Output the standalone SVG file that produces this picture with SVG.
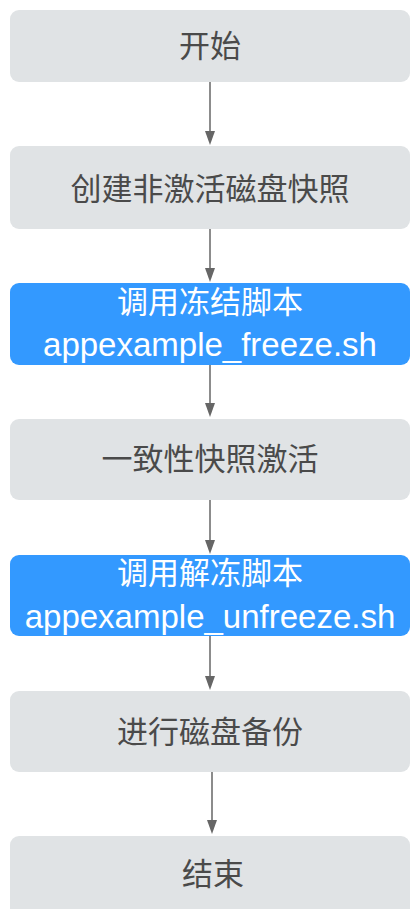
<svg xmlns="http://www.w3.org/2000/svg" width="412" height="909" viewBox="0 0 412 909">
<style>
.g{fill:#e0e3e5}
.b{fill:#3399ff}
.t{font-family:"Liberation Sans","Noto Sans CJK SC",sans-serif;font-size:31px;text-anchor:middle;dominant-baseline:central}
.l{font-size:33px}
.tg{fill:#4a4a4a}
.tw{fill:#ffffff}
.c{stroke:#666666;stroke-width:1.5;fill:none}
.h{fill:#666666}
</style>
<rect width="412" height="909" fill="#ffffff"/>
<g id="connectors">
<line class="c" x1="210" y1="82" x2="210" y2="132"/>
<path class="h" d="M205,131 L215,131 L210,145 Z"/>
<line class="c" x1="210" y1="229" x2="210" y2="269"/>
<path class="h" d="M205,268 L215,268 L210,282 Z"/>
<line class="c" x1="210" y1="365" x2="210" y2="404"/>
<path class="h" d="M205,403 L215,403 L210,417 Z"/>
<line class="c" x1="210" y1="500" x2="210" y2="541"/>
<path class="h" d="M205,540 L215,540 L210,554 Z"/>
<line class="c" x1="210" y1="636" x2="210" y2="677"/>
<path class="h" d="M205,676 L215,676 L210,690 Z"/>
<line class="c" x1="212" y1="772" x2="212" y2="821"/>
<path class="h" d="M207,820 L217,820 L212,834 Z"/>
</g>
<g id="n1">
<rect class="g" x="10" y="10" width="400" height="72" rx="9"/>
<text class="t tg" x="210" y="46">开始</text>
</g>
<g id="n2">
<rect class="g" x="10" y="146" width="400" height="83" rx="9"/>
<text class="t tg" x="210" y="189">创建非激活磁盘快照</text>
</g>
<g id="n3">
<rect class="b" x="10" y="283" width="400" height="82" rx="9"/>
<text class="t tw" x="210" y="302">调用冻结脚本</text>
<text class="t l tw" x="210" y="344">appexample_freeze.sh</text>
</g>
<g id="n4">
<rect class="g" x="10" y="419" width="400" height="81" rx="9"/>
<text class="t tg" x="210" y="459">一致性快照激活</text>
</g>
<g id="n5">
<rect class="b" x="10" y="555" width="400" height="81" rx="9"/>
<text class="t tw" x="210" y="573">调用解冻脚本</text>
<text class="t l tw" x="210" y="616">appexample_unfreeze.sh</text>
</g>
<g id="n6">
<rect class="g" x="10" y="691" width="400" height="81" rx="9"/>
<text class="t tg" x="210" y="732">进行磁盘备份</text>
</g>
<g id="n7">
<rect class="g" x="10" y="836" width="400" height="82" rx="9"/>
<text class="t tg" x="213" y="874">结束</text>
</g>
</svg>
